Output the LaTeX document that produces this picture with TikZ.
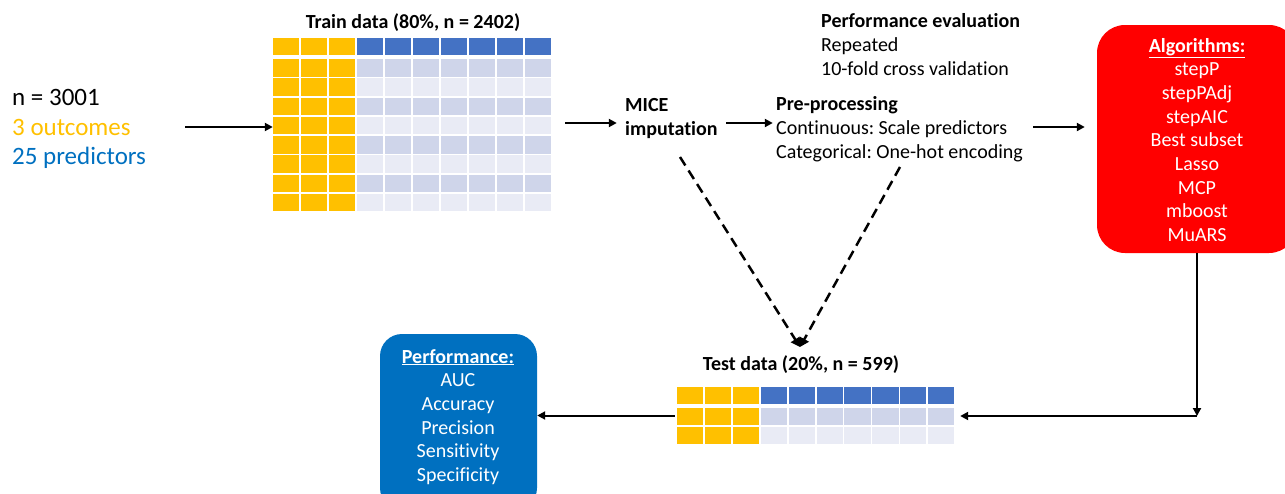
\documentclass[tikz,border=0pt]{standalone}
\usepackage{fontspec}
\setmainfont{Carlito}[Ligatures=NoCommon]
\frenchspacing
\usetikzlibrary{arrows.meta,fit}
\definecolor{yel}{HTML}{FFC000}
\definecolor{hblue}{HTML}{4472C4}
\definecolor{rowdark}{HTML}{CFD5EA}
\definecolor{rowlight}{HTML}{E9EBF5}
\definecolor{pblue}{HTML}{0070C0}
\definecolor{algred}{HTML}{FF0000}
\tikzset{
  lbl/.style={inner sep=0pt, font=\fontsize{20}{24}\selectfont},
  blbl/.style={inner sep=0pt, font=\fontsize{20}{24}\selectfont\bfseries},
  big/.style={inner sep=0pt, font=\fontsize{25}{30}\selectfont, anchor=base west},
  wlbl/.style={lbl, text=white, anchor=base},
  arr/.style={line width=2pt, -{Triangle[length=8pt,width=8pt]}},
  darr/.style={line width=2.5pt, dash pattern=on 10pt off 6pt, -{Triangle[length=9pt,width=10pt]}},
  fitbox/.style={inner sep=0pt, draw=none},
}
\begin{document}
\begin{tikzpicture}[x=1pt,y=-1pt]
\useasboundingbox (0,0) rectangle (1285,493);

% input text
\node[big] (n1) at (12,105) {n = 3001};
\node[big, text=yel] (n2) at (12,135) {3 outcomes};
\node[big, text=pblue] (n3) at (12,164) {25 predictors};

% train table
\node[blbl, anchor=base] (trt) at (413,28) {Train data (80\%, n = 2402)};
\foreach \c in {0,...,9}{
  \pgfmathsetmacro\xa{273+\c*28}
  \pgfmathsetmacro\xb{\xa+26.3}
  \ifnum\c<3 \def\hc{yel}\else\def\hc{hblue}\fi
  \fill[\hc] (\xa,38) rectangle (\xb,55);
  \foreach \r in {0,...,7}{
    \pgfmathsetmacro\ya{59+\r*19.25}
    \pgfmathsetmacro\yb{\ya+17.5}
    \pgfmathtruncatemacro\odd{mod(\r,2)}
    \ifnum\c<3 \def\rc{yel}\else\ifnum\odd=0 \def\rc{rowdark}\else\def\rc{rowlight}\fi\fi
    \fill[\rc] (\xa,\ya) rectangle (\xb,\yb);
  }
}
\node[fitbox, fit={(273,38)(553,213)}] (train) {};

% test table
\node[blbl, anchor=base] (tet) at (801,370) {Test data (20\%, n = 599)};
\foreach \c in {0,...,9}{
  \pgfmathsetmacro\xa{677+\c*27.9}
  \pgfmathsetmacro\xb{\xa+26.2}
  \ifnum\c<3 \def\hc{yel}\else\def\hc{hblue}\fi
  \fill[\hc] (\xa,387) rectangle (\xb,404);
  \foreach \r in {0,1}{
    \pgfmathsetmacro\ya{408+\r*19}
    \pgfmathsetmacro\yb{\ya+17}
    \ifnum\c<3 \def\rc{yel}\else\ifnum\r=0 \def\rc{rowdark}\else\def\rc{rowlight}\fi\fi
    \fill[\rc] (\xa,\ya) rectangle (\xb,\yb);
  }
}
\node[fitbox, fit={(677,387)(956,444)}] (test) {};

% MICE
\node[blbl, anchor=base west] (mice1) at (625,111) {MICE};
\node[blbl, anchor=base west] (mice2) at (625,135) {imputation};
\node[fitbox, inner xsep=8pt, fit=(mice1)(mice2)] (mice) {};

% Pre-processing
\node[blbl, anchor=base west] (pre1) at (776,110) {Pre-processing};
\node[lbl, anchor=base west] (pre2) at (776,134) {Continuous: Scale predictors};
\node[lbl, anchor=base west] (pre3) at (776,158) {Categorical: One-hot encoding};
\node[fitbox, inner xsep=3pt, fit=(pre1)(pre2)(pre3)] (pre) {};

% Performance evaluation
\node[blbl, anchor=base west] (pe1) at (821,27) {Performance evaluation};
\node[lbl, anchor=base west] (pe2) at (821,51) {Repeated};
\node[lbl, anchor=base west] (pe3) at (821,75) {10-fold cross validation};

% Algorithms box
\node[fill=algred, rounded corners=28pt, minimum width=200pt, minimum height=228pt, inner sep=0pt] (alg) at (1197,139) {};
\node[wlbl, font=\fontsize{20}{24}\selectfont\bfseries] (a0) at (1197,52) {\underline{Algorithms:}};
\foreach \t [count=\i] in {stepP,stepPAdj,stepAIC,Best subset,Lasso,MCP,mboost,MuARS}{
  \node[wlbl] (a\i) at (1197,{52+\i*23.7}) {\t};
}

% Performance box
\node[fill=pblue, rounded corners=22pt, minimum width=157pt, minimum height=176pt, inner sep=0pt] (perf) at (458.5,422) {};
\node[wlbl, font=\fontsize{20}{24}\selectfont\bfseries] (p0) at (458,363) {\underline{Performance:}};
\foreach \t [count=\i] in {AUC,Accuracy,Precision,Sensitivity,Specificity}{
  \node[wlbl] (p\i) at (458,{363+\i*23.7}) {\t};
}

% connectors
\coordinate (src) at (185,127);
\draw[arr] (src) -- (src -| train.west);
\coordinate (m0) at (565,123);
\draw[arr] (m0) -- (m0 -| mice.west);
\draw[arr] (mice.east |- m0) -- (m0 -| pre.west);
\coordinate (p1) at (1033,127);
\draw[arr] (p1) -- ([xshift=-12pt]p1 -| alg.west);
\coordinate (cor) at (1197,416);
\draw[arr] (alg.south) -- (cor);
\draw[arr] (cor) -- ([xshift=4pt]cor -| test.east);
\draw[arr] ([xshift=-2pt]test.west) -- (test.west -| perf.east);
\coordinate (d1) at (680,157);
\coordinate (d2) at (900,167);
\coordinate (dt) at (800,347);
\draw[darr] (d1) -- (dt);
\draw[darr] (d2) -- (dt);
\end{tikzpicture}
\end{document}
